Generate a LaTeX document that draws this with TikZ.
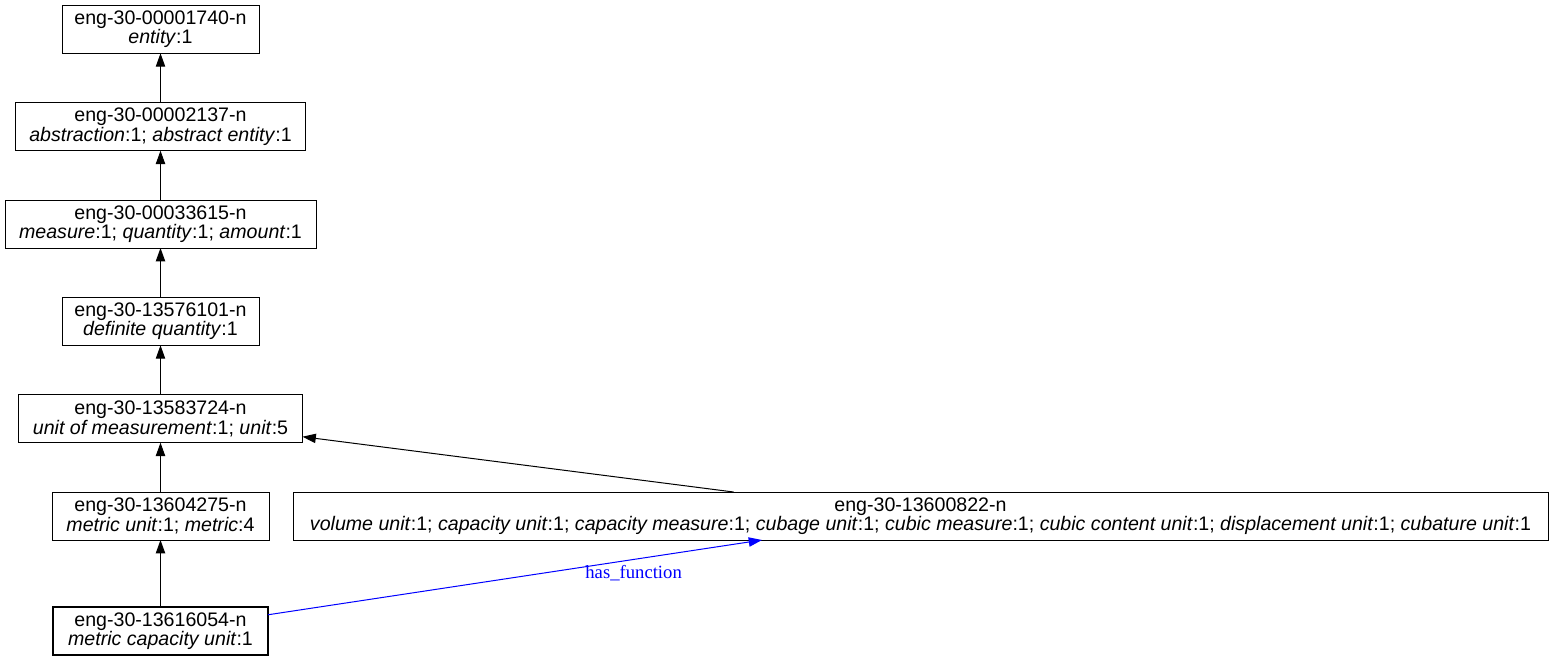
\documentclass[tikz,border=0pt]{standalone}
\usepackage{fontspec}
\setmainfont{Liberation Sans}
\newfontfamily\relfont{Liberation Serif}
\usetikzlibrary{positioning,arrows.meta}

\begin{document}
\begin{tikzpicture}[x=0.75pt,y=-0.75pt,node distance=37pt,line width=0.75pt,
  every node/.style={font=\fontsize{14.7}{13.5}\selectfont},
  synset/.style={rectangle,draw,align=center,inner xsep=0pt,outer sep=0pt,minimum height=36pt},
  isa/.style={-{Triangle[length=10pt,width=7pt]}},
  rel/.style={-{Triangle[length=10pt,width=7pt]},blue}]
  \useasboundingbox (0,0) rectangle (1553,661);
  \node[synset,line width=1.6pt,minimum width=161.25pt] (mcu) at (160.5,631) {eng-30-13616054-n\\\textit{metric capacity unit}:1};
  \node[synset,minimum width=162.75pt,above=50.25pt of mcu] (mu) {eng-30-13604275-n\\\textit{metric unit}:1; \textit{metric}:4};
  \node[synset,minimum width=213pt,above=of mu] (uom) {eng-30-13583724-n\\\textit{unit of measurement}:1; \textit{unit}:5};
  \node[synset,minimum width=147.75pt,above=of uom] (dq) {eng-30-13576101-n\\\textit{definite quantity}:1};
  \node[synset,minimum width=233.25pt,above=of dq] (meas) {eng-30-00033615-n\\\textit{measure}:1; \textit{quantity}:1; \textit{amount}:1};
  \node[synset,minimum width=217.5pt,above=of meas] (abs) {eng-30-00002137-n\\\textit{abstraction}:1; \textit{abstract entity}:1};
  \node[synset,minimum width=147.75pt,above=of abs] (ent) {eng-30-00001740-n\\\textit{entity}:1};
  \node[synset,minimum width=941.25pt] (vol) at (920.5,516) {eng-30-13600822-n\\\textit{volume unit}:1; \textit{capacity unit}:1; \textit{capacity measure}:1; \textit{cubage unit}:1; \textit{cubic measure}:1; \textit{cubic content unit}:1; \textit{displacement unit}:1; \textit{cubature unit}:1};
  \draw[isa] (mcu) -- (mu);
  \draw[isa] (mu) -- (uom);
  \draw[isa] (uom) -- (dq);
  \draw[isa] (dq) -- (meas);
  \draw[isa] (meas) -- (abs);
  \draw[isa] (abs) -- (ent);
  \draw[isa] (vol) -- (uom);
  \draw[rel] (mcu) -- node[pos=0.74,below=1pt,font=\relfont\fontsize{14}{14}\selectfont] (hf) {has\_function} (vol);
\end{tikzpicture}
\end{document}
